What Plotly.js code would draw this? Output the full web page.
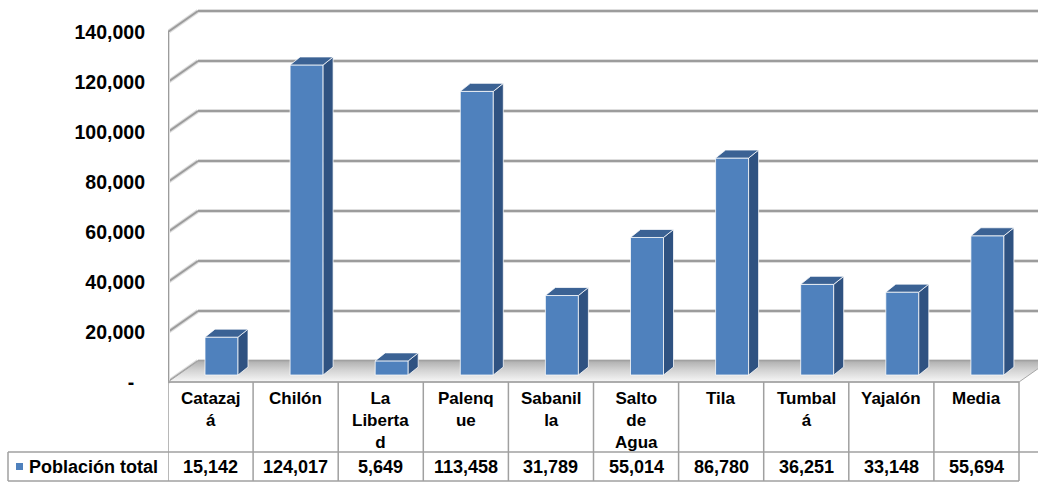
<!DOCTYPE html>
<html><head><meta charset="utf-8">
<script src="https://cdn.plot.ly/plotly-3.0.1.min.js"></script>
<style>html,body{margin:0;padding:0;background:#fff;}#chart{width:1038px;height:483px;}</style>
</head><body><div id="chart"></div>
<script>
// ---- data ----
const categories = ["Catazajá","Chilón","La Libertad","Palenque","Sabanilla","Salto de Agua","Tila","Tumbalá","Yajalón","Media"];
const headerLabels = ["Catazaj<br>á","Chilón","La<br>Liberta<br>d","Palenq<br>ue","Sabanil<br>la","Salto<br>de<br>Agua","Tila","Tumbal<br>á","Yajalón","Media"];
const poblacionTotal = [15142,124017,5649,113458,31789,55014,86780,36251,33148,55694];
const seriesName = "Población total";
const yTickVals = [0,20000,40000,60000,80000,100000,120000,140000];
const yTickText = ["-\u00A0\u00A0","20,000","40,000","60,000","80,000","100,000","120,000","140,000"];

// ---- geometry (pixel based helpers) ----
const W = 1038, H = 483, L = 168;
const PXX = 85.1;                 // px per category
const YPP = 400;                  // value units per px
const ZERO_PX = 382;
const xMax = (W - L) / PXX;
const yMax = ZERO_PX * YPP, yMin = -(H - ZERO_PX) * YPP;
const FDX = 30 / PXX, FDY = 21 * YPP;          // floor / wall depth
const BL = 37 / PXX, BW = 33 / PXX;            // bar front face left offset and width
const BBASE = 7 * YPP;                         // bar front plane base
const BDX = 10 / PXX, BDY = 8 * YPP;           // bar depth
const ROW1 = -(452 - ZERO_PX) * YPP, ROW2 = -(481 - ZERO_PX) * YPP;
const ROWMID = (ROW1 + ROW2) / 2;
const pxToPaperX = p => (p - L) / (W - L);

const FONT = "Arial, 'Liberation Sans', sans-serif";
const FRONT = '#4F81BD', SIDE = '#2F5281', TOP = '#3B6294';
const EDGE = 'rgba(255,255,255,0.75)';

const n = categories.length;
const traces = [];

// floor
traces.push({
  type:'scatter', mode:'lines', x:[0, n, n+FDX, FDX, 0], y:[0,0,FDY,FDY,0],
  fill:'toself', line:{color:'#A6A6A6', width:1},
  fillgradient:{type:'vertical', colorscale:[[0,'#F7F7F7'],[0.55,'#D4D4D4'],[1,'#B0B0B0']]},
  hoverinfo:'skip', showlegend:false
});

function poly(fn, color) {
  const xs = [], ys = [];
  poblacionTotal.forEach((v, i) => {
    const pts = fn(v, i);
    pts.forEach(p => { xs.push(p[0]); ys.push(p[1]); });
    xs.push(pts[0][0]); ys.push(pts[0][1]);
    xs.push(null); ys.push(null);
  });
  return {type:'scatter', mode:'lines', x:xs, y:ys, fill:'toself', fillcolor:color,
          line:{color:EDGE, width:1}, hoverinfo:'skip', showlegend:false, connectgaps:false};
}
// front faces
traces.push(poly((v,i) => {
  const xl = i + BL, xr = xl + BW;
  return [[xl,BBASE],[xr,BBASE],[xr,BBASE+v],[xl,BBASE+v]];
}, FRONT));
// side faces
traces.push(poly((v,i) => {
  const xr = i + BL + BW;
  return [[xr,BBASE],[xr+BDX,BBASE+BDY],[xr+BDX,BBASE+v+BDY],[xr,BBASE+v]];
}, SIDE));
// top faces
traces.push(poly((v,i) => {
  const xl = i + BL, xr = xl + BW, t = BBASE + v;
  return [[xl,t],[xr,t],[xr+BDX,t+BDY],[xl+BDX,t+BDY]];
}, TOP));

// ---- shapes: walls grid + table ----
const shapes = [];
function ln(x0,y0,x1,y1,color,width,extra) {
  shapes.push(Object.assign({type:'line', xref:'x', yref:'y', x0, y0, x1, y1,
    line:{color, width}, layer:'below'}, extra||{}));
}
yTickVals.forEach(t => {
  ln(FDX, t+FDY, xMax+1, t+FDY, '#DEDEDE', 4);
  ln(0, t, FDX, t+FDY, '#DEDEDE', 4);
});
yTickVals.forEach(t => {
  ln(FDX, t+FDY, xMax+1, t+FDY, '#9C9C9C', 2);
  ln(0, t, FDX, t+FDY, '#9C9C9C', 2);
});
ln(0, 0, 0, yTickVals[yTickVals.length-1], '#DEDEDE', 4);
ln(0, 0, 0, yTickVals[yTickVals.length-1], '#9C9C9C', 2);

// table
const TC = '#A0A0A0';
for (let i = 0; i <= n; i++) ln(i, 0, i, ROW2, TC, 1.5, {layer:'above'});
ln(0, 0, n, 0, TC, 1.5, {layer:'above'});
shapes.push({type:'line', xref:'paper', yref:'y', x0:pxToPaperX(8), x1:1, y0:ROW1, y1:ROW1,
  line:{color:TC, width:1.5}, layer:'above'});
shapes.push({type:'line', xref:'paper', yref:'y', x0:pxToPaperX(8), x1:pxToPaperX(L)+ (n/xMax), y0:ROW2, y1:ROW2,
  line:{color:TC, width:1.5}, layer:'above'});
shapes.push({type:'line', xref:'paper', yref:'y', x0:pxToPaperX(8), x1:pxToPaperX(8), y0:ROW1, y1:ROW2,
  line:{color:TC, width:1.5}, layer:'above'});
// legend key
shapes.push({type:'rect', xref:'paper', yref:'y', x0:pxToPaperX(16), x1:pxToPaperX(23),
  y0:ROWMID - 3.5*YPP, y1:ROWMID + 3.5*YPP, fillcolor:FRONT, line:{width:0}, layer:'above'});

// ---- annotations ----
const annotations = [];
categories.forEach((c, i) => {
  annotations.push({xref:'x', yref:'y', x:i+0.5, y:0, yanchor:'top', xanchor:'center', yshift:-5,
    text:headerLabels[i], showarrow:false, align:'center',
    font:{family:FONT, size:17, color:'#000', weight:700}});
  annotations.push({xref:'x', yref:'y', x:i+0.5, y:ROWMID, yanchor:'middle', xanchor:'center',
    text:poblacionTotal[i].toLocaleString('en-US'), showarrow:false,
    font:{family:FONT, size:18, color:'#000', weight:700}});
});
annotations.push({xref:'paper', yref:'y', x:pxToPaperX(27), y:ROWMID, xanchor:'left', yanchor:'middle',
  text:seriesName, showarrow:false, font:{family:FONT, size:18, color:'#000', weight:700}});

const layout = {
  width:W, height:H, margin:{l:L, r:0, t:0, b:0, pad:0},
  paper_bgcolor:'#fff', plot_bgcolor:'#fff', showlegend:false,
  xaxis:{range:[0, xMax], visible:false, fixedrange:true},
  yaxis:{range:[yMin, yMax], tickvals:yTickVals, ticktext:yTickText, showgrid:false, zeroline:false,
    showline:false, ticks:'', ticklabelstandoff:22,
    tickfont:{family:FONT, size:19.5, color:'#000', weight:700}, fixedrange:true},
  shapes, annotations
};
Plotly.newPlot('chart', traces, layout, {displayModeBar:false, staticPlot:true});
</script></body></html>
